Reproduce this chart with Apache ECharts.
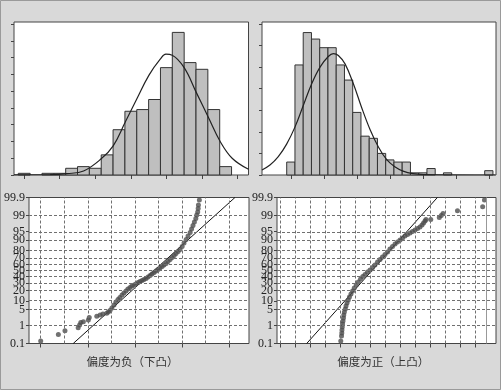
<!DOCTYPE html>
<html><head><meta charset="utf-8">
<script src="https://cdn.jsdelivr.net/npm/echarts@6/dist/echarts.min.js"></script>
<style>html,body{margin:0;padding:0;background:#d9d9d9;}#c{width:501px;height:390px;}</style>
</head><body><div id="c"></div>
<script>
// ---------- DATA ----------
// Histogram, negative skew (bins 1..18, counts of 500 samples)
const histLeftCounts = [1,0,1,1,4,5,4,12,27,38,39,45,64,85,67,63,39,5];
// Histogram, positive skew (bins 1..25)
const histRightCounts = [6,51,66,63,59,59,51,44,29,18,17,10,7,6,6,1,1,3,0,1,0,0,0,0,2];
const histLeftXTicks = [1,4,7,10,13,16,19];
const histRightXTicks = [1,5,9,13,17,21,25];
const histLeftYTicks = [0,10,20,30,40,50,60,70,80,90];
const histRightYTicks = [0,10,20,30,40,50,60,70];
// fitted normal curves [bin, count]
const fitLeft = [[0.14,0.1],[3.19,0.2],[4.60,0.8],[6.01,2.4],[7.52,9.8],[8.51,17.4],[9.52,31.4],[10.51,45.4],[11.52,59.4],[12.48,69],[12.96,72],[13.49,71.4],[14.50,64],[15.51,49.4],[16.53,34.6],[17.54,20],[18.55,10],[19.93,3.4]];
const fitRight = [[-2.5,2.3],[-1.53,4.6],[-0.52,8.5],[0.49,14.3],[1.51,22.3],[2.52,32.3],[3.53,42.3],[4.54,50],[5.54,54.9],[6.15,56.2],[6.76,55.4],[7.57,51.5],[8.58,42.3],[9.59,31.2],[10.6,21.1],[11.6,13.1],[12.6,7.2],[13.6,3.8],[14.6,1.8],[15.8,0.6],[17.1,0.2],[25.8,0]];
// probability plot tick labels (cumulative percent)
const probTickLabels = ['0.1','1','5','10','20','30','40','50','60','70','80','90','95','99','99.9'];
const probTickPercents = [0.1,1,5,10,20,30,40,50,60,70,80,90,95,99,99.9];
// normal probability plot, negative skew: [x, normal score]
const probLeft = [[1.00,-2.98],[1.75,-2.71],[2.03,-2.55],[2.59,-2.42],[2.65,-2.31],[2.70,-2.20],[2.81,-2.17],[3.02,-2.10],[3.06,-1.99],[3.38,-1.94],[3.52,-1.88],[3.64,-1.84],[3.80,-1.81],[3.87,-1.76],
[3.94,-1.69],[4.02,-1.59],[4.11,-1.46],[4.19,-1.33],[4.28,-1.23],[4.36,-1.14],[4.45,-1.04],[4.53,-0.95],[4.62,-0.87],[4.70,-0.78],[4.79,-0.72],[4.87,-0.66],[4.96,-0.61],[5.04,-0.57],[5.13,-0.51],[5.21,-0.47],[5.30,-0.42],[5.38,-0.38],[5.47,-0.34],[5.55,-0.28],[5.64,-0.21],[5.72,-0.15],[5.81,-0.08],[5.89,-0.02],[5.98,0.04],[6.06,0.11],[6.15,0.17],[6.23,0.23],[6.32,0.30],[6.40,0.38],[6.49,0.47],[6.57,0.55],[6.66,0.64],[6.74,0.72],[6.83,0.80],[6.91,0.89],[7.00,1.02],[7.08,1.16],[7.17,1.31],[7.25,1.46],[7.34,1.61],[7.40,1.76],[7.46,1.91],[7.52,2.05],[7.58,2.20],[7.62,2.35],[7.66,2.48],[7.68,2.62],[7.69,2.77],[7.73,2.98]];
// normal probability plot, positive skew
const probRight = [[5.05,-2.98],[5.10,-2.77],[5.12,-2.65],[5.13,-2.52],[5.15,-2.39],[5.17,-2.27],[5.20,-2.14],[5.23,-2.01],[5.25,-1.88],[5.29,-1.76],[5.35,-1.63],[5.40,-1.50],[5.47,-1.38],[5.55,-1.25],[5.63,-1.12],[5.73,-0.99],[5.84,-0.87],[5.95,-0.74],[6.08,-0.61],[6.22,-0.49],[6.37,-0.36],[6.52,-0.25],[6.67,-0.17],[6.83,-0.06],[7.00,0.02],[7.17,0.13],[7.33,0.23],[7.50,0.36],[7.67,0.47],[7.83,0.57],[8.00,0.68],[8.17,0.78],[8.33,0.91],[8.50,1.02],[8.67,1.12],[8.83,1.21],[9.00,1.29],[9.17,1.38],[9.33,1.46],[9.50,1.52],[9.67,1.59],[9.83,1.65],[10.00,1.71],[10.17,1.78],[10.33,1.84],[10.47,1.93],[10.57,2.01],[10.67,2.10],[10.73,2.16],
[11.05,2.16],[11.62,2.24],[11.75,2.33],[11.87,2.41],[12.83,2.53],[14.51,2.70],[14.63,2.98]];
const fitLineLeft = [[2.38,-3.0902],[9.24,3.0902]];
const fitLineRight = [[2.78,-3.0902],[11.49,3.0902]];
const probLeftGridX = [1,2,3,4,5,6,7,8,9];
const probLeftTickX = [1,3,5,7,9];
const probRightGridX = [1,2,3,4,5,6,7,8,9,10,11,12,13,14];
const probRightExtraLine = 14.77;

// ---------- helpers ----------
function probit(p){
 const a=[-3.969683028665376e+01,2.209460984245205e+02,-2.759285104469687e+02,1.383577518672690e+02,-3.066479806614716e+01,2.506628277459239e+00];
 const b=[-5.447609879822406e+01,1.615858368580409e+02,-1.556989798598866e+02,6.680131188771972e+01,-1.328068155288572e+01];
 const c=[-7.784894002430293e-03,-3.223964580411365e-01,-2.400758277161838e+00,-2.549732539343734e+00,4.374664141464968e+00,2.938163982698783e+00];
 const d=[7.784695709041462e-03,3.224671290700398e-01,2.445134137142996e+00,3.754408661907416e+00];
 const pl=0.02425, ph=1-pl; let q,r;
 if(p<pl){q=Math.sqrt(-2*Math.log(p));return (((((c[0]*q+c[1])*q+c[2])*q+c[3])*q+c[4])*q+c[5])/((((d[0]*q+d[1])*q+d[2])*q+d[3])*q+1);}
 if(p<=ph){q=p-0.5;r=q*q;return (((((a[0]*r+a[1])*r+a[2])*r+a[3])*r+a[4])*r+a[5])*q/(((((b[0]*r+b[1])*r+b[2])*r+b[3])*r+b[4])*r+1);}
 q=Math.sqrt(-2*Math.log(1-p));return -(((((c[0]*q+c[1])*q+c[2])*q+c[3])*q+c[4])*q+c[5])/((((d[0]*q+d[1])*q+d[2])*q+d[3])*q+1);
}
const probTickZ = probTickPercents.map(v=>probit(v/100));
const zMin = probTickZ[0], zMax = probTickZ[probTickZ.length-1];
function probLabel(v){
  for(let i=0;i<probTickZ.length;i++){ if(Math.abs(probTickZ[i]-v)<1e-6) return probTickLabels[i]; }
  return '';
}
const binsLeft = histLeftCounts.map((c,i)=>[i+0.5,i+1.5,c]);
const binsRight = histRightCounts.map((c,i)=>[i+0.5,i+1.5,c]);
function barItem(params, api){
  const c = api.value(2); if(!c) return null;
  const p0 = api.coord([api.value(0), 0]);
  const p1 = api.coord([api.value(1), c]);
  return {type:'rect', shape:{x:p0[0], y:p1[1], width:p1[0]-p0[0], height:p0[1]-p1[1]},
    style:{fill:'#bfbfbf', stroke:'#333', lineWidth:1}};
}
const gridDash = {type:[3,2], color:'#707070', width:1};
function mlData(xs, zs){
  return xs.map(v=>({xAxis:v})).concat(zs.map(v=>({yAxis:v})));
}
function histX(min,max,ticks){
  return {type:'value', min:min, max:max, axisLine:{show:false, onZero:false},
    axisTick:{show:true, length:4, customValues:ticks, lineStyle:{color:'#444'}},
    axisLabel:{show:false, customValues:ticks}, splitLine:{show:false}};
}
function histY(max,ticks){
  return {type:'value', min:0, max:max, axisLine:{show:false, onZero:false},
    axisTick:{show:true, length:3, customValues:ticks, lineStyle:{color:'#444'}},
    axisLabel:{show:false, customValues:ticks}, splitLine:{show:false}};
}
function probX(min,max,ticks,gi){
  return {type:'value', gridIndex:gi, min:min, max:max, axisLine:{show:false, onZero:false},
    axisTick:{show:true, length:4, customValues:ticks, lineStyle:{color:'#444'}},
    axisLabel:{show:false, customValues:ticks}, splitLine:{show:false}};
}
function probY(gi){
  return {type:'value', gridIndex:gi, min:zMin, max:zMax, axisLine:{show:false, onZero:false},
    axisTick:{show:true, length:3, customValues:probTickZ, lineStyle:{color:'#444'}},
    axisLabel:{show:true, customValues:probTickZ, formatter:probLabel, margin:4,
      fontFamily:'Liberation Serif', fontSize:12, color:'#222'},
    splitLine:{show:false}};
}
const gridBase = {show:true, backgroundColor:'#fff', borderColor:'#444', borderWidth:1, containLabel:false};

const chart = echarts.init(document.getElementById('c'), null, {renderer:'canvas'});
chart.setOption({
  animation:false,
  backgroundColor:'#d9d9d9',
  grid:[
    Object.assign({left:14, top:22, width:234.5, height:153}, gridBase),
    Object.assign({left:262, top:22, width:234, height:153}, gridBase),
    Object.assign({left:29, top:197.5, width:220, height:146}, gridBase),
    Object.assign({left:277, top:197.5, width:219, height:146}, gridBase)
  ],
  xAxis:[
    Object.assign({gridIndex:0}, histX(0.139, 19.93, histLeftXTicks)),
    Object.assign({gridIndex:1}, histX(-2.495, 25.87, histRightXTicks)),
    probX(0.504, 9.836, probLeftTickX, 2),
    probX(0.8, 15.4, probRightGridX, 3)
  ],
  yAxis:[
    Object.assign({gridIndex:0}, histY(91.2, histLeftYTicks)),
    Object.assign({gridIndex:1}, histY(70.9, histRightYTicks)),
    probY(2), probY(3)
  ],
  graphic:[
    {type:'rect', shape:{x:0.5,y:0.5,width:500,height:389}, style:{fill:'none', stroke:'#9a9a9a', lineWidth:1}, silent:true},
    {type:'text', x:132.5, y:361.5, style:{text:'偏度为负（下凸）', fontFamily:'Noto Sans CJK SC', fontSize:11.5, fill:'#333', textAlign:'center', textVerticalAlign:'middle'}},
    {type:'text', x:383.3, y:361.5, style:{text:'偏度为正（上凸）', fontFamily:'Noto Sans CJK SC', fontSize:11.5, fill:'#333', textAlign:'center', textVerticalAlign:'middle'}}
  ],
  series:[
    {type:'custom', xAxisIndex:0, yAxisIndex:0, renderItem:barItem, encode:{x:[0,1], y:2}, data:binsLeft, z:2},
    {type:'line', xAxisIndex:0, yAxisIndex:0, data:fitLeft, smooth:0.4, symbol:'none', lineStyle:{color:'#222', width:1.2}, z:3},
    {type:'custom', xAxisIndex:1, yAxisIndex:1, renderItem:barItem, encode:{x:[0,1], y:2}, data:binsRight, z:2},
    {type:'line', xAxisIndex:1, yAxisIndex:1, data:fitRight, smooth:0.4, symbol:'none', lineStyle:{color:'#222', width:1.2}, z:3},
    {type:'line', xAxisIndex:2, yAxisIndex:2, data:fitLineLeft, symbol:'none', lineStyle:{color:'#111', width:1}, z:2,
      markLine:{silent:true, symbol:['none','none'], label:{show:false}, lineStyle:gridDash, animation:false,
        data:mlData(probLeftGridX, probTickZ.slice(1,-1))}},
    {type:'scatter', xAxisIndex:2, yAxisIndex:2, data:probLeft, symbolSize:5, itemStyle:{color:'#4d4d4d'}, z:4},
    {type:'line', xAxisIndex:3, yAxisIndex:3, data:fitLineRight, symbol:'none', lineStyle:{color:'#111', width:1}, z:2,
      markLine:{silent:true, symbol:['none','none'], label:{show:false}, lineStyle:gridDash, animation:false,
        data:mlData(probRightGridX, probTickZ.slice(1,-1)).concat([{xAxis:probRightExtraLine, lineStyle:{type:'solid', color:'#999', width:1}}])}},
    {type:'scatter', xAxisIndex:3, yAxisIndex:3, data:probRight, symbolSize:5, itemStyle:{color:'#4d4d4d'}, z:4}
  ]
});
</script></body></html>
